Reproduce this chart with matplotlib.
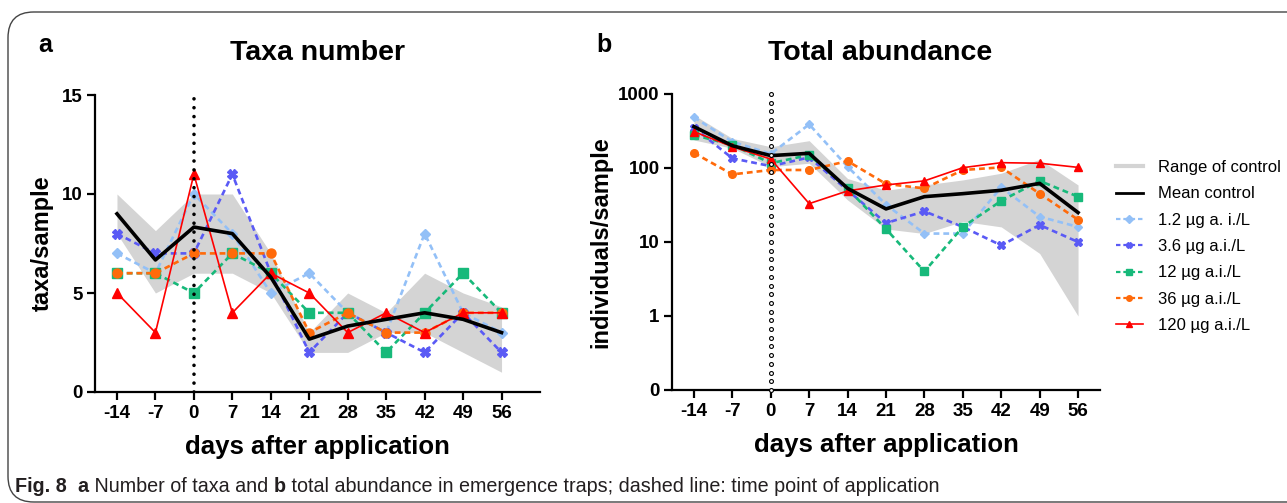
import numpy as np
import matplotlib
matplotlib.use("Agg")
import matplotlib.pyplot as plt
from matplotlib.patches import FancyBboxPatch
from matplotlib.lines import Line2D

plt.rcParams['font.family'] = ['Liberation Sans', 'DejaVu Sans']

# ---------------- data ----------------
days = [-14, -7, 0, 7, 14, 21, 28, 35, 42, 49, 56]
day_labels = ['-14', '-7', '0', '7', '14', '21', '28', '35', '42', '49', '56']

# Panel a: taxa number
taxa_ctrl_mean = [9.0, 6.67, 8.33, 8.0, 5.8, 2.67, 3.33, 3.67, 4.0, 3.67, 3.0]
taxa_ctrl_min = [8, 5, 6, 6, 5, 2, 2, 3, 3, 2, 1]
taxa_ctrl_max = [10, 8.15, 10, 10, 7, 3, 5, 4, 6, 5, 4.3]
taxa_1_2 = [7, 6, 10, 8, 5, 6, 4, 3, 8, 4, 3]
taxa_3_6 = [8, 7, 7, 11, 6, 2, 4, 3, 2, 4, 2]
taxa_12 = [6, 6, 5, 7, 6, 4, 4, 2, 4, 6, 4]
taxa_36 = [6, 6, 7, 7, 7, 3, 4, 3, 3, 4, 4]
taxa_120 = [5, 3, 11, 4, 6, 5, 3, 4, 3, 4, 4]

# Panel b: total abundance
abd_ctrl_mean = [362, 200, 147, 158, 53, 28, 41, 45, 50, 62, 25]
abd_ctrl_min = [239, 185, 104, 116, 37, 15, 13, 19, 16, 7, 1]
abd_ctrl_max = [520, 251, 194, 234, 72, 50, 59, 69, 85, 131, 59]
abd_1_2 = [484, 227, 155, 389, 104, 32, 13, 13, 55, 22, 16]
abd_3_6 = [351, 135, 106, 139, 50, 18, 26, 16, 9, 17, 10]
abd_12 = [279, 205, 116, 150, 53, 15, 4, 16, 36, 67, 41]
abd_36 = [160, 82, 94, 94, 124, 61, 53, 94, 102, 45, 20]
abd_120 = [310, 194, 132, 33, 49, 59, 67, 101, 118, 116, 102]

series_labels = ['1.2 µg a. i./L', '3.6 µg a.i./L', '12 µg a.i./L',
                 '36 µg a.i./L', '120 µg a.i./L']
series_colors = ['#93c0f7', '#5a5af5', '#17b97a', '#ff6a0a', '#ff0000']
series_markers = ['D', 'X', 's', 'o', '^']

W, H = 1287, 503
fig = plt.figure(figsize=(W / 100, H / 100), dpi=100)

# rounded border
fig.patches.append(FancyBboxPatch((8 / W, 1 / H), 1.2, (503 - 12 - 1) / H,
                                  boxstyle="round,pad=0,rounding_size=0.02",
                                  transform=fig.transFigure, fill=False,
                                  edgecolor='#444444', linewidth=1.0,
                                  mutation_aspect=W / H, zorder=0))


def style_axes(ax):
    for s in ['top', 'right']:
        ax.spines[s].set_visible(False)
    for s in ['left', 'bottom']:
        ax.spines[s].set_linewidth(1.6)
    ax.tick_params(axis='both', width=1.6, length=6, labelsize=13.5, pad=3)
    ax.set_xticks(days)
    ax.set_xticklabels(day_labels)
    for lab in ax.get_xticklabels() + ax.get_yticklabels():
        lab.set_fontweight('bold')


def draw_series(ax, mean, lo, hi, groups, ms):
    ax.fill_between(days, lo, hi, color='#d4d4d4', linewidth=0, zorder=1)
    ax.plot(days, mean, color='black', lw=2.6, zorder=5)
    for i, (vals, c, m) in enumerate(zip(groups, series_colors, series_markers)):
        if i == 4:
            ax.plot(days, vals, color=c, lw=1.2, marker=m, ms=ms * 1.1, zorder=4)
        else:
            ax.plot(days, vals, color=c, lw=1.9, ls=(0, (2.2, 1.5)),
                    marker=m, ms=ms * (0.8 if m == 'D' else 1.0), zorder=3)


# ---------------- panel a ----------------
axa = fig.add_axes([95 / W, 1 - 392 / H, (540 - 95) / W, (392 - 95) / H])
draw_series(axa, taxa_ctrl_mean, taxa_ctrl_min, taxa_ctrl_max,
            [taxa_1_2, taxa_3_6, taxa_12, taxa_36, taxa_120], 6.5)
axa.plot([0, 0], [0, 15], color='black', lw=2.6,
         ls=(0, (0.01, 2.45)), dash_capstyle='round', zorder=6)
axa.set_xlim(-18, 63)
axa.set_ylim(0, 15)
axa.set_yticks([0, 5, 10, 15])
style_axes(axa)
axa.set_ylabel('taxa/sample', fontsize=17, fontweight='bold', labelpad=6)
axa.set_xlabel('days after application', fontsize=18.5, fontweight='bold', labelpad=10)

# ---------------- panel b ----------------
axb = fig.add_axes([672 / W, 1 - 390 / H, (1100 - 672) / W, (390 - 94) / H])
draw_series(axb, abd_ctrl_mean, abd_ctrl_min, abd_ctrl_max,
            [abd_1_2, abd_3_6, abd_12, abd_36, abd_120], 5.5)
axb.set_yscale('log')
ndots = 35
axb.plot(np.zeros(ndots), np.logspace(-1, 3, ndots), ls='none', marker='o',
         ms=2.8, mfc='white', mec='black', mew=0.8, zorder=6, clip_on=False)
axb.set_xlim(-18, 60)
axb.set_ylim(0.1, 1000)
axb.set_yticks([0.1, 1, 10, 100, 1000])
axb.yaxis.set_minor_locator(matplotlib.ticker.NullLocator())
axb.set_yticklabels(['0', '1', '10', '100', '1000'])
style_axes(axb)
axb.set_ylabel('individuals/sample', fontsize=17, fontweight='bold', labelpad=4)
axb.set_xlabel('days after application', fontsize=18.5, fontweight='bold', labelpad=10)

# titles and panel letters
fig.text(318 / W, 1 - 53 / H, 'Taxa number', fontsize=20.5, fontweight='bold',
         ha='center', va='center')
fig.text(880 / W, 1 - 53 / H, 'Total abundance', fontsize=20.5, fontweight='bold',
         ha='center', va='center')
fig.text(38 / W, 1 - 45 / H, 'a', fontsize=18, fontweight='bold', ha='left', va='center')
fig.text(596 / W, 1 - 45 / H, 'b', fontsize=18, fontweight='bold', ha='left', va='center')

# legend
handles = [Line2D([], [], color='#d4d4d4', lw=3),
           Line2D([], [], color='black', lw=2)]
for i, (c, m) in enumerate(zip(series_colors, series_markers)):
    if i == 4:
        handles.append(Line2D([], [], color=c, lw=1.2, marker=m, ms=4))
    else:
        handles.append(Line2D([], [], color=c, lw=1.6, ls=(0, (2, 1.3)), marker=m, ms=4))
labels = ['Range of control', 'Mean control'] + series_labels
fig.legend(handles, labels, loc='upper left', bbox_to_anchor=(1116 / W, 1 - 160 / H),
           frameon=False, fontsize=12, handlelength=1.6, handletextpad=0.9,
           labelspacing=0.68, borderpad=0, borderaxespad=0, numpoints=1)

# caption
fig.canvas.draw()
renderer = fig.canvas.get_renderer()
pieces = [('Fig. 8', 'bold'), ('  a', 'bold'), (' Number of taxa and ', 'normal'),
          ('b', 'bold'),
          (' total abundance in emergence traps; dashed line: time point of application', 'normal')]
x = 15
for txt, wt in pieces:
    t = fig.text(x / W, 1 - 487 / H, txt, fontsize=14.2, fontweight=wt,
                 ha='left', va='center', color='#231f20')
    bb = t.get_window_extent(renderer=renderer)
    x += bb.width

fig.savefig('out.png', dpi=100)
